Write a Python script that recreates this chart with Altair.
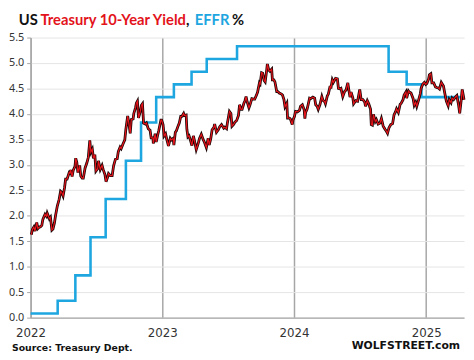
import altair as alt
import pandas as pd

# 10-year Treasury yield (approximate readings)
yield_dates = [
    "2022-01-03","2022-01-06","2022-01-10","2022-01-13","2022-01-18","2022-01-21","2022-01-25","2022-01-28",
    "2022-02-01","2022-02-04","2022-02-10","2022-02-14","2022-02-16","2022-02-22","2022-02-25","2022-03-01",
    "2022-03-04","2022-03-08","2022-03-11","2022-03-16","2022-03-21","2022-03-25","2022-03-28","2022-04-01",
    "2022-04-05","2022-04-08","2022-04-12","2022-04-18","2022-04-20","2022-04-22","2022-04-26","2022-04-29",
    "2022-05-04","2022-05-06","2022-05-09","2022-05-12","2022-05-17","2022-05-20","2022-05-24","2022-05-27",
    "2022-06-01","2022-06-06","2022-06-10","2022-06-14","2022-06-17","2022-06-21","2022-06-24","2022-06-28",
    "2022-07-01","2022-07-06","2022-07-08","2022-07-13","2022-07-18","2022-07-21","2022-07-26","2022-07-29",
    "2022-08-02","2022-08-05","2022-08-10","2022-08-15","2022-08-19","2022-08-24","2022-08-29","2022-09-01",
    "2022-09-06","2022-09-09","2022-09-14","2022-09-19","2022-09-22","2022-09-27","2022-09-30","2022-10-04",
    "2022-10-07","2022-10-12","2022-10-14","2022-10-19","2022-10-21","2022-10-24","2022-10-27","2022-11-01",
    "2022-11-04","2022-11-07","2022-11-10","2022-11-15","2022-11-18","2022-11-23","2022-11-28","2022-12-01",
    "2022-12-06","2022-12-07","2022-12-12","2022-12-15","2022-12-19","2022-12-22","2022-12-28","2022-12-30",
    "2023-01-03","2023-01-06","2023-01-10","2023-01-13","2023-01-18","2023-01-23","2023-01-26","2023-01-31",
    "2023-02-02","2023-02-06","2023-02-09","2023-02-14","2023-02-17","2023-02-21","2023-02-24","2023-03-01",
    "2023-03-03","2023-03-08","2023-03-10","2023-03-13","2023-03-16","2023-03-20","2023-03-24","2023-03-28",
    "2023-03-31","2023-04-05","2023-04-10","2023-04-14","2023-04-19","2023-04-24","2023-04-28","2023-05-03",
    "2023-05-08","2023-05-11","2023-05-15","2023-05-19","2023-05-24","2023-05-26","2023-05-31","2023-06-05",
    "2023-06-09","2023-06-14","2023-06-20","2023-06-23","2023-06-28","2023-06-30","2023-07-06","2023-07-10",
    "2023-07-13","2023-07-18","2023-07-21","2023-07-26","2023-07-31","2023-08-03","2023-08-07","2023-08-10",
    "2023-08-15","2023-08-18","2023-08-21","2023-08-24","2023-08-29","2023-09-01","2023-09-06","2023-09-11",
    "2023-09-14","2023-09-19","2023-09-22","2023-09-27","2023-09-29","2023-10-03","2023-10-06","2023-10-10",
    "2023-10-13","2023-10-17","2023-10-19","2023-10-23","2023-10-26","2023-10-31","2023-11-02","2023-11-06",
    "2023-11-09","2023-11-14","2023-11-17","2023-11-21","2023-11-27","2023-11-30","2023-12-04","2023-12-07",
    "2023-12-12","2023-12-14","2023-12-19","2023-12-22","2023-12-27","2023-12-29",
    "2024-01-02","2024-01-05","2024-01-10","2024-01-16","2024-01-19","2024-01-24","2024-01-29","2024-01-31",
    "2024-02-02","2024-02-06","2024-02-09","2024-02-13","2024-02-16","2024-02-22","2024-02-27","2024-03-01",
    "2024-03-05","2024-03-08","2024-03-13","2024-03-18","2024-03-21","2024-03-26","2024-03-28","2024-04-02",
    "2024-04-05","2024-04-10","2024-04-12","2024-04-16","2024-04-19","2024-04-25","2024-04-30","2024-05-03",
    "2024-05-08","2024-05-10","2024-05-15","2024-05-20","2024-05-24","2024-05-29","2024-05-31","2024-06-04",
    "2024-06-07","2024-06-12","2024-06-14","2024-06-20","2024-06-25","2024-06-28","2024-07-01","2024-07-05",
    "2024-07-10","2024-07-15","2024-07-17","2024-07-22","2024-07-26","2024-07-31","2024-08-02","2024-08-05",
    "2024-08-08","2024-08-13","2024-08-16","2024-08-21","2024-08-26","2024-08-30","2024-09-04","2024-09-09",
    "2024-09-13","2024-09-16","2024-09-20","2024-09-25","2024-09-30","2024-10-04","2024-10-08","2024-10-11",
    "2024-10-16","2024-10-21","2024-10-24","2024-10-29","2024-11-01","2024-11-06","2024-11-08","2024-11-13",
    "2024-11-15","2024-11-20","2024-11-26","2024-11-29","2024-12-03","2024-12-06","2024-12-11","2024-12-16",
    "2024-12-18","2024-12-23","2024-12-27","2024-12-31",
    "2025-01-03","2025-01-08","2025-01-10","2025-01-14","2025-01-17","2025-01-22","2025-01-27","2025-01-30",
    "2025-02-04","2025-02-07","2025-02-12","2025-02-18","2025-02-21","2025-02-26","2025-03-03","2025-03-06",
    "2025-03-11","2025-03-14","2025-03-18","2025-03-24","2025-03-27","2025-04-01","2025-04-04","2025-04-08",
    "2025-04-10","2025-04-11","2025-04-14","2025-04-16",
]
yield_values = [
    1.63,1.73,1.78,1.70,1.87,1.75,1.78,1.78,
    1.81,1.93,2.03,1.99,2.05,1.94,1.97,1.72,
    1.74,1.86,2.00,2.19,2.32,2.48,2.46,2.39,
    2.55,2.72,2.72,2.85,2.84,2.90,2.77,2.89,
    2.97,3.13,3.05,2.85,2.99,2.78,2.74,2.74,
    2.94,3.04,3.15,3.48,3.25,3.31,3.13,3.20,
    2.88,2.93,3.08,2.91,2.99,2.91,2.81,2.67,
    2.75,2.83,2.79,2.79,2.98,3.11,3.12,3.26,
    3.35,3.32,3.41,3.49,3.70,3.96,3.83,3.62,
    3.89,3.90,4.01,4.13,4.21,4.25,3.92,4.05,
    4.17,4.20,3.82,3.80,3.82,3.71,3.68,3.53,
    3.53,3.42,3.61,3.45,3.58,3.67,3.88,3.88,
    3.79,3.57,3.61,3.51,3.37,3.52,3.49,3.52,
    3.39,3.64,3.67,3.77,3.82,3.95,3.95,4.01,
    3.97,3.98,3.70,3.55,3.57,3.48,3.38,3.57,
    3.48,3.30,3.41,3.52,3.60,3.50,3.44,3.34,
    3.52,3.39,3.51,3.69,3.74,3.80,3.64,3.69,
    3.75,3.79,3.72,3.74,3.71,3.81,4.05,4.01,
    3.76,3.80,3.84,3.87,3.97,4.18,4.09,4.09,
    4.21,4.26,4.34,4.24,4.12,4.18,4.30,4.29,
    4.29,4.37,4.43,4.61,4.59,4.81,4.80,4.66,
    4.63,4.85,4.98,4.86,4.84,4.88,4.67,4.67,
    4.63,4.44,4.44,4.41,4.39,4.37,4.28,4.14,
    4.21,3.92,3.92,3.90,3.79,3.88,
    3.95,4.05,4.04,4.07,4.15,4.18,4.08,3.91,
    4.03,4.09,4.18,4.31,4.30,4.33,4.31,4.18,
    4.15,4.09,4.19,4.34,4.27,4.24,4.20,4.35,
    4.39,4.55,4.50,4.67,4.62,4.70,4.69,4.50,
    4.49,4.50,4.34,4.44,4.47,4.61,4.51,4.33,
    4.43,4.31,4.20,4.26,4.25,4.36,4.48,4.28,
    4.28,4.23,4.15,4.26,4.20,4.09,3.79,3.78,
    3.99,3.85,3.89,3.80,3.82,3.91,3.76,3.70,
    3.66,3.62,3.73,3.79,3.81,3.98,4.04,4.10,
    4.03,4.19,4.21,4.28,4.37,4.43,4.31,4.45,
    4.43,4.41,4.30,4.17,4.23,4.15,4.27,4.40,
    4.50,4.59,4.62,4.58,
    4.60,4.69,4.77,4.79,4.61,4.61,4.53,4.52,
    4.51,4.49,4.62,4.55,4.43,4.25,4.16,4.28,
    4.22,4.31,4.28,4.34,4.36,4.17,4.01,4.26,
    4.42,4.48,4.36,4.28,
]

# Effective Federal Funds Rate (step changes)
effr_dates = ["2022-01-01","2022-03-17","2022-05-05","2022-06-16","2022-07-28","2022-09-22",
              "2022-11-03","2022-12-15","2023-02-02","2023-03-23","2023-05-04","2023-07-27",
              "2024-09-19","2024-11-08","2024-12-19","2025-04-16"]
effr_values = [0.08,0.33,0.83,1.58,2.33,3.08,3.83,4.33,4.58,4.83,5.08,5.33,4.83,4.58,4.33,4.33]

y_ticks = [0.0,0.5,1.0,1.5,2.0,2.5,3.0,3.5,4.0,4.5,5.0,5.5]
x_years = [2022,2023,2024,2025]

df_y = pd.DataFrame({"date": yield_dates, "value": yield_values})
df_e = pd.DataFrame({"date": effr_dates, "value": effr_values})

GRAY = "#a6a6a6"
x_enc = alt.X(
    "date:T",
    scale=alt.Scale(type="utc",
                    domain=[alt.DateTime(year=2022, month=1, date=1, utc=True),
                            alt.DateTime(year=2025, month=4, date=16, utc=True)]),
    axis=alt.Axis(values=[alt.DateTime(year=y, month=1, date=1, utc=True) for y in x_years],
                  format="%Y", title=None, grid=True, gridColor=GRAY, gridWidth=1.5,
                  ticks=False, domainColor=GRAY, domainWidth=1.2, labelFont="DejaVu Sans",
                  labelFontSize=12, labelColor="#333333", labelPadding=10, labelFlush=False),
)
y_enc = alt.Y(
    "value:Q",
    scale=alt.Scale(domain=[0, 5.5], nice=False),
    axis=alt.Axis(values=y_ticks, format=".1f", title=None, grid=True, gridColor="#e4e4e4",
                  gridWidth=1, tickColor=GRAY, tickSize=4, domainColor=GRAY, domainWidth=1.2,
                  labelFont="Noto Sans", labelFontSize=11, labelColor="#333333", labelPadding=3),
)

effr = alt.Chart(df_e).mark_line(color="#1ea6e0", strokeWidth=2.6, interpolate="step-after").encode(
    x=x_enc, y=y_enc)
yld_base = alt.Chart(df_y).mark_line(color="#1a0505", strokeWidth=2.8).encode(x=x_enc, y=y_enc)
yld_red = alt.Chart(df_y).mark_line(color="#e8141b", strokeWidth=1.2).encode(x=x_enc, y=y_enc)


def label(text, x, y, color, size, align="left", font="Lato"):
    return alt.Chart(pd.DataFrame({"t": [text]})).mark_text(
        align=align, baseline="middle", font=font, fontWeight="bold", fontSize=size, color=color
    ).encode(x=alt.value(x), y=alt.value(y), text="t:N")


title_parts = [
    label("US", -12, -18, "#111111", 15),
    label("Treasury 10-Year Yield", 10, -18, "#e3131b", 15),
    label(",", 158, -18, "#111111", 15),
    label("EFFR", 167, -18, "#1ea6e0", 15),
    label("%", 205, -18, "#111111", 15),
]
footer = [
    label("Source: Treasury Dept.", -19, 316, "#111111", 9.5, font="DejaVu Sans"),
    label("WOLFSTREET.com", 437, 314, "#111111", 11, align="right", font="DejaVu Sans"),
]

chart = alt.layer(effr, yld_base, yld_red, *title_parts, *footer).properties(
    width=441, height=285,
    autosize=alt.AutoSizeParams(type="none"),
    padding={"left": 23, "top": 27, "right": 2, "bottom": 38},
).configure_view(stroke=None)

chart.save("out.html", embed_options={"renderer": "svg", "actions": False})
